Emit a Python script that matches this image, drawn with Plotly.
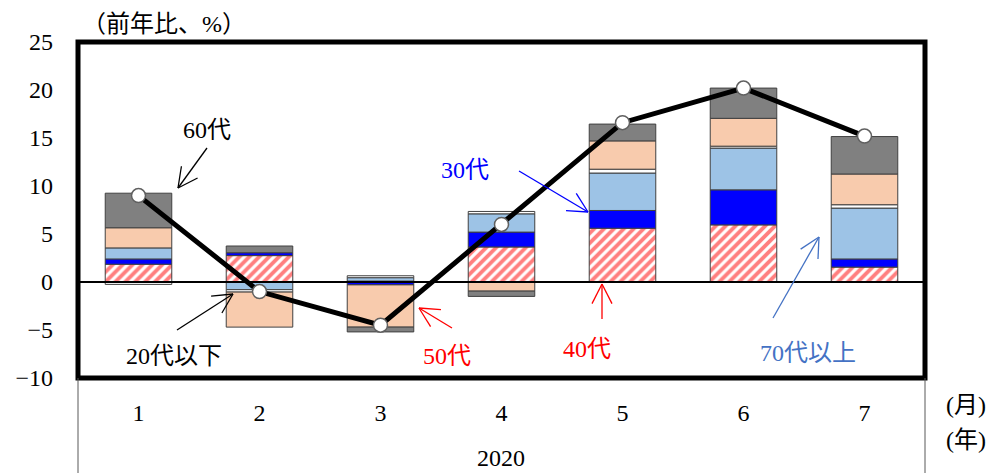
import math
import plotly.graph_objects as go

# Year-on-year contribution by age group (percentage points)
months = [1, 2, 3, 4, 5, 6, 7]
month_labels = ["1", "2", "3", "4", "5", "6", "7"]
age_40s = [1.85, 2.75, 0.10, 3.65, 5.60, 5.95, 1.55]
age_30s = [0.55, 0.30, -0.30, 1.55, 1.85, 3.65, 0.85]
age_70plus = [1.15, -0.80, 0.35, 1.90, 3.90, 4.35, 5.30]
age_20under = [-0.25, -0.25, 0.20, 0.25, 0.40, 0.20, 0.35]
age_50s = [2.10, -3.65, -4.40, -0.95, 2.95, 2.90, 3.20]
age_60s = [3.60, 0.70, -0.50, -0.55, 1.75, 3.15, 3.90]
total = [9.0, -1.0, -4.5, 6.0, 16.6, 20.2, 15.2]
y_ticks = [-10, -5, 0, 5, 10, 15, 20, 25]

W, H = 995, 473
ML, MR, MT, MB = 78, 70, 42, 95
X_RANGE = [0.5, 7.5]
Y_RANGE = [-10, 25]
PW, PH = W - ML - MR, H - MT - MB

SERIF = "Liberation Serif, 'Noto Sans CJK JP', serif"
EDGE = "#404040"
FS = 24


def px_x(px):
    return X_RANGE[0] + (px - ML) / PW * (X_RANGE[1] - X_RANGE[0])


def px_y(py):
    return Y_RANGE[1] - (py - MT) / PH * (Y_RANGE[1] - Y_RANGE[0])


fig = go.Figure()

series = [
    ("40代", age_40s, dict(color="white", pattern=dict(shape="/", fgcolor="#FF0000",
                                                      bgcolor="white", size=7, solidity=0.55))),
    ("30代", age_30s, dict(color="#0000FF")),
    ("70代以上", age_70plus, dict(color="#9DC3E6")),
    ("20代以下", age_20under, dict(color="#FFFFFF")),
    ("50代", age_50s, dict(color="#F8CBAD")),
    ("60代", age_60s, dict(color="#808080")),
]
for name, vals, mk in series:
    mk = dict(mk)
    mk["line"] = dict(color=EDGE, width=1)
    fig.add_trace(go.Bar(x=months, y=vals, name=name, marker=mk, width=0.55))

fig.add_trace(go.Scatter(
    x=months, y=total, mode="lines+markers", name="合計",
    line=dict(color="black", width=5),
    marker=dict(size=14, color="white", line=dict(color="#606060", width=1.5)),
))

shapes = []
# zero line
shapes.append(dict(type="line", xref="paper", yref="y", x0=0, x1=1, y0=0, y1=0,
                   line=dict(color="black", width=2), layer="above"))
# plot frame
shapes.append(dict(type="rect", xref="paper", yref="paper", x0=0, x1=1, y0=0, y1=1,
                   line=dict(color="black", width=5), layer="above"))
# category-axis side lines
for xp in (0, 1):
    shapes.append(dict(type="line", xref="paper", yref="paper", x0=xp, x1=xp,
                       y0=0, y1=-MB / PH, line=dict(color="#595959", width=1)))

annotations = []


def callout(text, color, tx, ty, tail, tip):
    annotations.append(dict(x=px_x(tx), y=px_y(ty), xref="x", yref="y", text=text,
                            xanchor="center", yanchor="middle", showarrow=False,
                            font=dict(family=SERIF, size=FS, color=color)))
    (sx, sy), (ex, ey) = tail, tip
    shapes.append(dict(type="line", xref="x", yref="y", x0=px_x(sx), y0=px_y(sy),
                       x1=px_x(ex), y1=px_y(ey), line=dict(color=color, width=1.3)))
    dx, dy = ex - sx, ey - sy
    n = math.hypot(dx, dy)
    ux, uy = dx / n, dy / n
    L, a = 22, math.radians(27)
    for s in (1, -1):
        ca, sa = math.cos(s * a), math.sin(s * a)
        rx, ry = ux * ca - uy * sa, ux * sa + uy * ca
        shapes.append(dict(type="line", xref="x", yref="y", x0=px_x(ex), y0=px_y(ey),
                           x1=px_x(ex - L * rx), y1=px_y(ey - L * ry),
                           line=dict(color=color, width=1.3)))


callout("60代", "black", 207, 130, (207, 148), (178, 188))
callout("20代以下", "black", 174, 356, (177, 330), (233, 294))
callout("50代", "#FF0000", 447, 356, (452, 328), (419, 308))
callout("40代", "#FF0000", 587, 349, (602, 319), (602, 284))
callout("30代", "#0000FF", 465, 170, (519, 171), (588, 212))
callout("70代以上", "#4472C4", 808, 353, (773, 318), (819, 237))


def label(text, px, py):
    annotations.append(dict(x=(px - ML) / PW, y=(H - py - MB) / PH, xref="paper", yref="paper",
                            text=text, showarrow=False, xanchor="center", yanchor="middle",
                            font=dict(family=SERIF, size=FS, color="black")))


label("（前年比、%）", 164, 24)
label("(月)", 966, 405)
label("(年)", 966, 440)
label("2020", 501, 458)

fig.update_layout(
    width=W, height=H,
    margin=dict(l=ML, r=MR, t=MT, b=MB),
    paper_bgcolor="white", plot_bgcolor="white",
    barmode="relative", showlegend=False,
    shapes=shapes, annotations=annotations,
    xaxis=dict(range=X_RANGE, tickvals=months, ticktext=month_labels, showgrid=False,
               zeroline=False, showline=False, ticks="", ticklabelstandoff=18,
               tickfont=dict(family=SERIF, size=FS, color="black")),
    yaxis=dict(range=Y_RANGE, tickvals=y_ticks, showgrid=False, zeroline=False,
               showline=False, ticks="", ticklabelstandoff=24,
               tickfont=dict(family=SERIF, size=FS, color="black")),
)

fig.write_html("out.html")
